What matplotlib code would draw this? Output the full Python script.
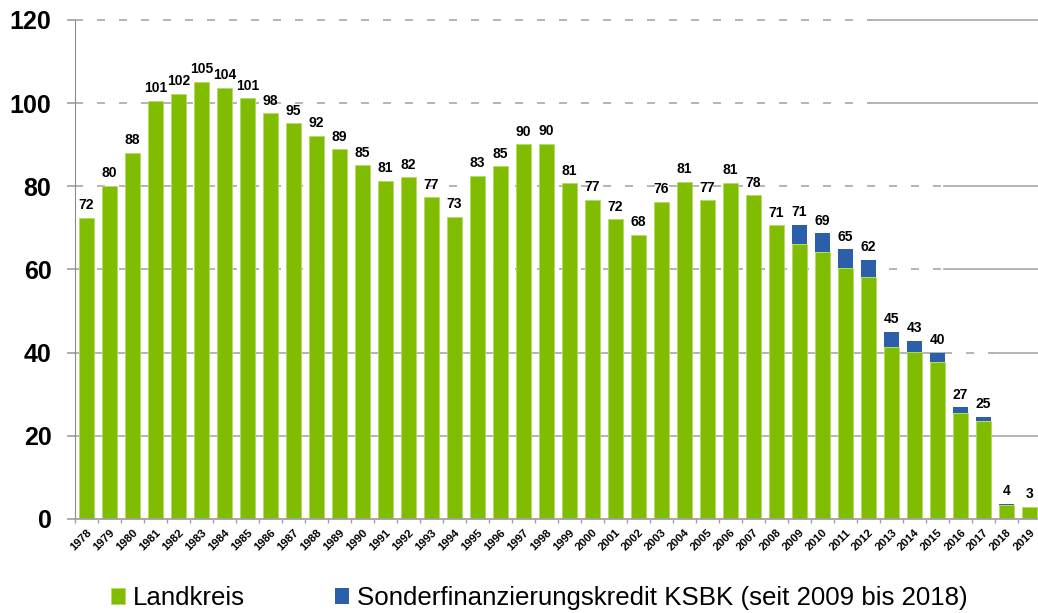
import matplotlib
matplotlib.use("Agg")
import matplotlib.pyplot as plt
import numpy as np

plt.rcParams['font.family'] = ['Liberation Sans', 'DejaVu Sans']

# Jahre (Kategorien)
years = ['1978', '1979', '1980', '1981', '1982', '1983', '1984', '1985', '1986', '1987',
         '1988', '1989', '1990', '1991', '1992', '1993', '1994', '1995', '1996', '1997',
         '1998', '1999', '2000', '2001', '2002', '2003', '2004', '2005', '2006', '2007',
         '2008', '2009', '2010', '2011', '2012', '2013', '2014', '2015', '2016', '2017',
         '2018', '2019']

# Landkreis (green part)
landkreis = [72.4, 80.1, 88.1, 100.6, 102.2, 105.1, 103.7, 101.2, 97.6, 95.2,
             92.1, 88.9, 85.1, 81.3, 82.2, 77.4, 72.7, 82.6, 84.8, 90.1,
             90.3, 80.7, 76.8, 72.1, 68.3, 76.3, 81.1, 76.6, 80.9, 77.9,
             70.6, 66.2, 64.2, 60.4, 58.2, 41.4, 40.1, 37.7, 25.4, 23.6,
             3.4, 2.9]

# Sonderfinanzierungskredit KSBK (blue part, 2009-2018)
ksbk = [0, 0, 0, 0, 0, 0, 0, 0, 0, 0,
        0, 0, 0, 0, 0, 0, 0, 0, 0, 0,
        0, 0, 0, 0, 0, 0, 0, 0, 0, 0,
        0, 4.5, 4.5, 4.5, 4.2, 3.6, 2.8, 2.3, 1.5, 1.0,
        0.3, 0]

y_ticks = [0, 20, 40, 60, 80, 100, 120]

GREEN = '#80bd00'
BLUE = '#2c5faa'
GRID = '#a8a8a8'

W, H = 1038, 613
fig = plt.figure(figsize=(W / 100, H / 100), dpi=100)
ax = fig.add_axes([75 / W, 94 / H, 966 / W, 499 / H])

x = np.arange(len(years))
bars_lk = ax.bar(x, landkreis, width=0.65, color=GREEN, edgecolor='#b3da66',
                 linewidth=0.6, zorder=3, label='Landkreis')
bars_ks = ax.bar(x, ksbk, bottom=landkreis, width=0.65, color=BLUE, linewidth=0,
                 zorder=3, label='Sonderfinanzierungskredit KSBK (seit 2009 bis 2018)')

# totals on top
totals = np.array(landkreis) + np.array(ksbk)
for xi, t in zip(x, totals):
    ax.annotate(f"{t:.0f}", (xi, t), xytext=(0, 4), textcoords='offset points',
                ha='center', va='bottom', fontsize=10, fontweight='bold', zorder=5)


def grid_piece(y, f0, f1, dashed):
    # horizontal gridline segment, f0/f1 in axes fraction
    ls = (0, (4.8, 8.4)) if dashed else '-'
    ax.plot([f0, f1], [y, y], transform=ax.get_yaxis_transform(), color=GRID,
            lw=1.2, ls=ls, zorder=1, clip_on=False)


# gridlines: partly dashed, partly solid like the original
for yv in [100, 120]:
    grid_piece(yv, 0, 0.823, True)
    grid_piece(yv, 0.823, 1, False)
for yv in [60, 80]:
    grid_piece(yv, 0, 0.90, True)
    grid_piece(yv, 0.90, 1, False)
grid_piece(40, 0, 0.90, False)
grid_piece(40, 0.90, 0.95, True)
grid_piece(40, 0.95, 1, False)
grid_piece(20, 0, 1, False)

ax.set_xlim(-0.5, len(years) - 0.5)
ax.set_ylim(0, 120)

for side in ['top', 'right']:
    ax.spines[side].set_visible(False)
ax.spines['left'].set_color('#8c8c8c')
ax.spines['bottom'].set_color('#a0a0a0')
ax.spines['bottom'].set_linewidth(1.3)
ax.spines['bottom'].set_zorder(4)

ax.set_yticks(y_ticks)
ax.set_yticklabels([str(v) for v in y_ticks], fontsize=18, fontweight='bold')
ax.tick_params(axis='y', length=6, color='#a0a0a0', width=1.2, pad=11)

ax.set_xticks(x)
ax.set_xticklabels(years, rotation=45, ha='right', va='top', rotation_mode='anchor',
                   fontsize=8.2, fontweight='bold')
ax.tick_params(axis='x', which='major', length=0, pad=6)
ax.set_xticks(x - 0.5, minor=True)
ax.tick_params(axis='x', which='minor', length=3, color='#a0a0a0', width=1)

fig.legend(handles=[bars_lk, bars_ks], loc='center',
           bbox_to_anchor=(539 / W, 1 - 598 / H), ncol=2, frameon=False,
           fontsize=18.6, handlelength=0.55, handleheight=0.55, handletextpad=0.3,
           columnspacing=3.5, borderaxespad=0, borderpad=0)

fig.savefig('out.png', dpi=100)
plt.close()
